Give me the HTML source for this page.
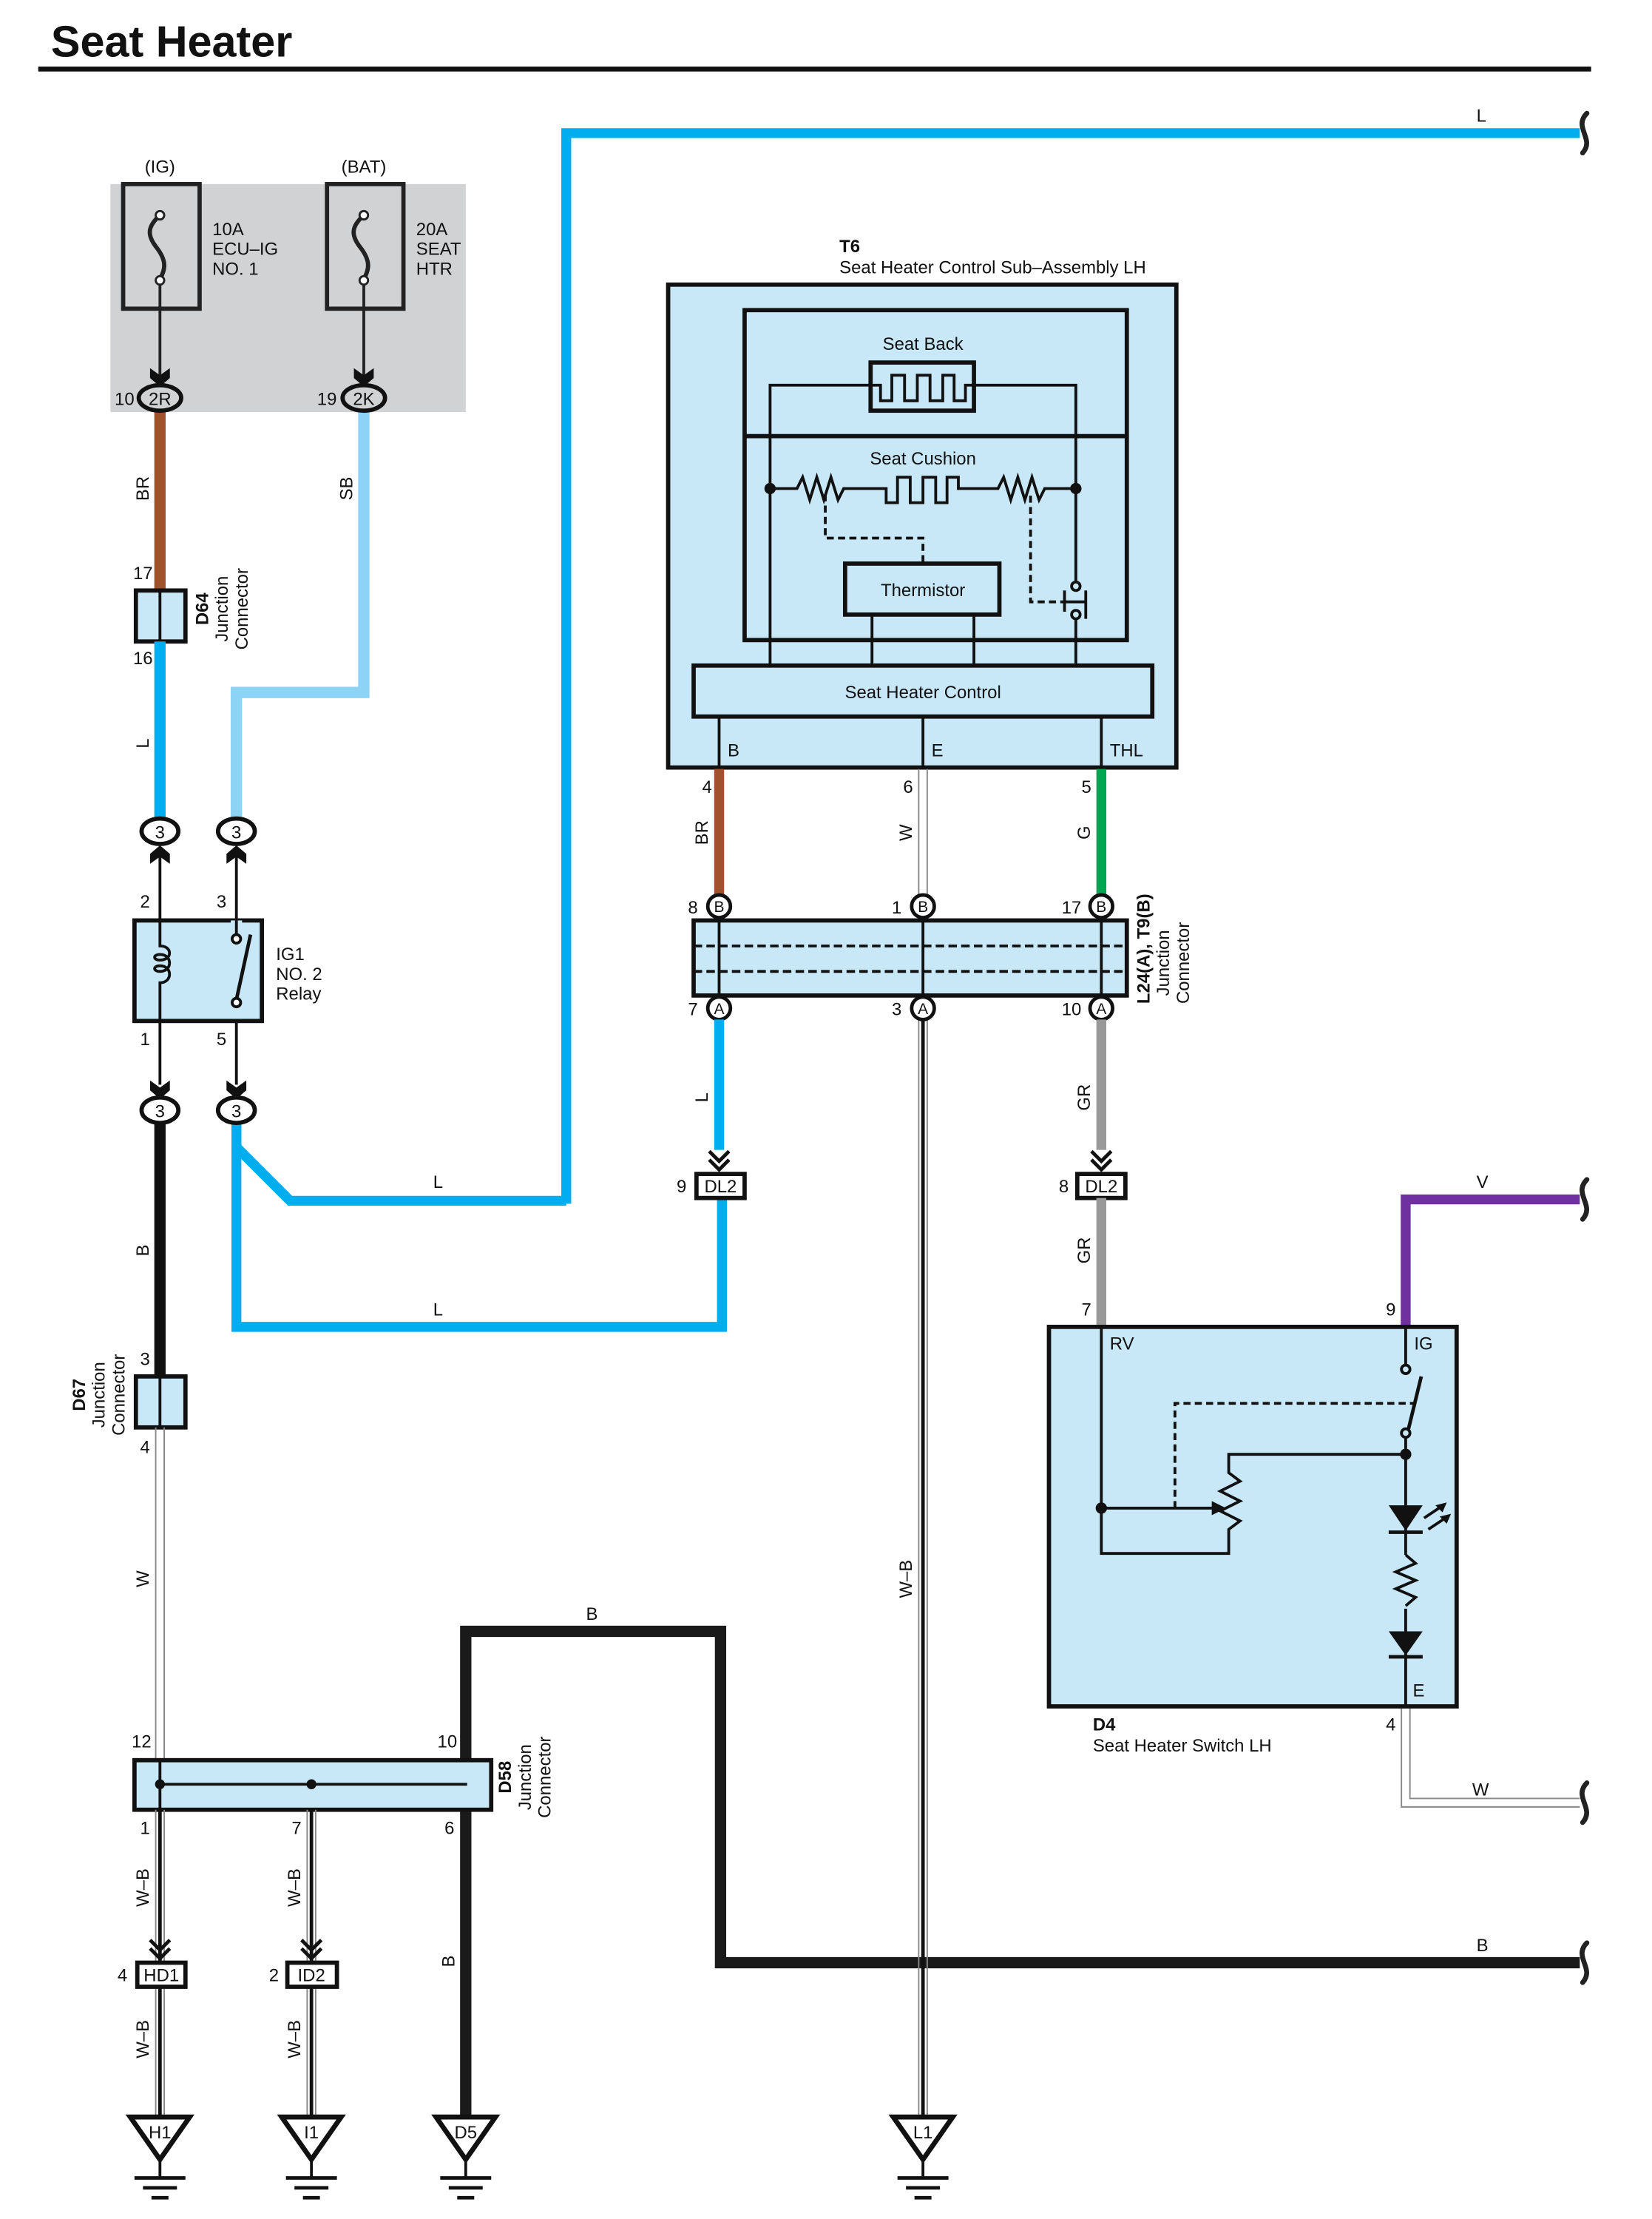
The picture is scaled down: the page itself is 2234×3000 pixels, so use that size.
<!DOCTYPE html>
<html><head><meta charset="utf-8"><style>
html,body{margin:0;padding:0;background:#fff;}
svg{display:block;}
text{font-family:"Liberation Sans",sans-serif;font-size:12.5px;fill:#111;}
.b{font-weight:bold;}
</style></head><body>
<svg width="2234" height="3000" viewBox="0 0 1167 1567" preserveAspectRatio="none" xmlns="http://www.w3.org/2000/svg">
<defs>
<g id="brk"><path d="M3,-14 C-7,-4 9,4 0,14" fill="none" stroke="#222" stroke-width="3.5" stroke-linecap="round"/></g>
<g id="ad"><polygon points="-7,-12 0,-7 7,-12 7,-5 0,1 -7,-5" fill="#111"/></g>
<g id="au"><polygon points="-7,12 0,7 7,12 7,5 0,-1 -7,5" fill="#111"/></g>
<g id="dc"><path d="M-7,-16 L0,-9 L7,-16 M-7,-10 L0,-3 L7,-10" fill="none" stroke="#111" stroke-width="2.5"/></g>
<g id="gnd"><polygon points="-21,0 21,0 0,30" fill="#fff" stroke="#111" stroke-width="3.5" stroke-linejoin="miter"/><line x1="0" y1="30" x2="0" y2="42" stroke="#111" stroke-width="2"/><line x1="-18" y1="43" x2="18" y2="43" stroke="#111" stroke-width="2.5"/><line x1="-12" y1="50" x2="12" y2="50" stroke="#111" stroke-width="2.5"/><line x1="-6" y1="57" x2="6" y2="57" stroke="#111" stroke-width="2.5"/></g>
</defs>

<!-- Title -->
<text x="36" y="40" class="b" style="font-size:31px">Seat Heater</text>
<rect x="27" y="47" width="1097" height="3.5" fill="#111"/>

<!-- Top L wire -->
<path d="M400,850 L400,94 L1116,94" fill="none" stroke="#00aeef" stroke-width="7"/>
<text x="1043" y="86">L</text>
<use href="#brk" x="1118" y="94"/>

<!-- Fuse block -->
<rect x="78" y="130" width="251" height="161" fill="#d1d2d4"/>
<rect x="87" y="130" width="54" height="88" fill="none" stroke="#222" stroke-width="3"/>
<rect x="231" y="130" width="54" height="88" fill="none" stroke="#222" stroke-width="3"/>
<text x="113" y="122" text-anchor="middle">(IG)</text>
<text x="257" y="122" text-anchor="middle">(BAT)</text>
<path d="M113,152 C104,160 104,166 110,174 C118,184 117,190 113,197" fill="none" stroke="#222" stroke-width="3"/>
<path d="M257,152 C248,160 248,166 254,174 C262,184 261,190 257,197" fill="none" stroke="#222" stroke-width="3"/>
<circle cx="113" cy="152" r="3" fill="#fff" stroke="#222" stroke-width="1.5"/>
<circle cx="113" cy="198" r="3" fill="#fff" stroke="#222" stroke-width="1.5"/>
<circle cx="257" cy="152" r="3" fill="#fff" stroke="#222" stroke-width="1.5"/>
<circle cx="257" cy="198" r="3" fill="#fff" stroke="#222" stroke-width="1.5"/>
<text x="150" y="166">10A</text><text x="150" y="180">ECU–IG</text><text x="150" y="194">NO. 1</text>
<text x="294" y="166">20A</text><text x="294" y="180">SEAT</text><text x="294" y="194">HTR</text>
<line x1="113" y1="201" x2="113" y2="272" stroke="#222" stroke-width="2"/>
<line x1="257" y1="201" x2="257" y2="272" stroke="#222" stroke-width="2"/>
<use href="#ad" x="113" y="272"/><use href="#ad" x="257" y="272"/>

<!-- BR and SB wires -->
<line x1="113" y1="289" x2="113" y2="418" stroke="#a0522d" stroke-width="8"/>
<path d="M257,289 L257,489 L167,489 L167,579" fill="none" stroke="#8dd3f5" stroke-width="8"/>
<ellipse cx="113" cy="281" rx="15" ry="9" fill="#d1d2d4" stroke="#111" stroke-width="3"/>
<text x="113" y="286" text-anchor="middle">2R</text><text x="81" y="286">10</text>
<ellipse cx="257" cy="281" rx="15" ry="9" fill="#d1d2d4" stroke="#111" stroke-width="3"/>
<text x="257" y="286" text-anchor="middle">2K</text><text x="224" y="286">19</text>
<text transform="translate(105,345) rotate(-90)" text-anchor="middle">BR</text>
<text transform="translate(249,345) rotate(-90)" text-anchor="middle">SB</text>

<!-- D64 -->
<rect x="96" y="417" width="35" height="36" fill="#c8e8f8" stroke="#111" stroke-width="3"/>
<line x1="113" y1="417" x2="113" y2="453" stroke="#111" stroke-width="2"/>
<text x="94" y="409">17</text><text x="94" y="469">16</text>
<text transform="translate(147,430) rotate(-90)" text-anchor="middle" class="b">D64</text>
<text transform="translate(161,430) rotate(-90)" text-anchor="middle">Junction</text>
<text transform="translate(175,430) rotate(-90)" text-anchor="middle">Connector</text>
<line x1="113" y1="453" x2="113" y2="579" stroke="#00aeef" stroke-width="8"/>
<text transform="translate(105,525) rotate(-90)" text-anchor="middle">L</text>

<!-- connectors 3 top -->
<ellipse cx="113" cy="587" rx="13" ry="9" fill="#fff" stroke="#111" stroke-width="3"/><text x="113" y="592" text-anchor="middle">3</text>
<ellipse cx="167" cy="587" rx="13" ry="9" fill="#fff" stroke="#111" stroke-width="3"/><text x="167" y="592" text-anchor="middle">3</text>
<use href="#au" x="113" y="598"/><use href="#au" x="167" y="598"/>
<line x1="113" y1="604" x2="113" y2="766" stroke="#111" stroke-width="2"/>
<line x1="167" y1="604" x2="167" y2="766" stroke="#111" stroke-width="2"/>

<!-- Relay -->
<rect x="95" y="650" width="90" height="71" fill="#c8e8f8" stroke="#111" stroke-width="3"/>
<path d="M113,650 L113,668 C122,668 122,678 113,678 C108,678 108,674 113,674 C122,674 122,686 113,686 C108,686 108,682 113,682 C122,682 122,694 113,694 L113,721" fill="none" stroke="#111" stroke-width="2"/>
<rect x="163" y="650" width="8" height="14" fill="#c8e8f8"/>
<line x1="167" y1="650" x2="167" y2="660" stroke="#111" stroke-width="2"/>
<circle cx="167" cy="663" r="3" fill="#fff" stroke="#111" stroke-width="2"/>
<line x1="167" y1="706" x2="177" y2="660" stroke="#111" stroke-width="2.5"/>
<circle cx="167" cy="708" r="3" fill="#fff" stroke="#111" stroke-width="2"/>
<text x="99" y="641">2</text><text x="153" y="641">3</text>
<text x="99" y="738">1</text><text x="153" y="738">5</text>
<text x="195" y="678">IG1</text><text x="195" y="692">NO. 2</text><text x="195" y="706">Relay</text>
<use href="#ad" x="113" y="775"/><use href="#ad" x="167" y="775"/>

<!-- L wires from relay 5 -->
<path d="M167,792 L167,810 L205,848 L400,848" fill="none" stroke="#00aeef" stroke-width="7"/>
<path d="M167,792 L167,937 L510,937 L510,846" fill="none" stroke="#00aeef" stroke-width="7"/>
<text x="306" y="839">L</text><text x="306" y="929">L</text>
<!-- B wire -->
<line x1="113" y1="792" x2="113" y2="973" stroke="#111" stroke-width="8"/>
<text transform="translate(105,883) rotate(-90)" text-anchor="middle">B</text>
<ellipse cx="113" cy="784" rx="13" ry="9" fill="#fff" stroke="#111" stroke-width="3"/><text x="113" y="789" text-anchor="middle">3</text>
<ellipse cx="167" cy="784" rx="13" ry="9" fill="#fff" stroke="#111" stroke-width="3"/><text x="167" y="789" text-anchor="middle">3</text>

<!-- D67 -->
<rect x="96" y="972" width="35" height="36" fill="#c8e8f8" stroke="#111" stroke-width="3"/>
<line x1="113" y1="972" x2="113" y2="1008" stroke="#111" stroke-width="2"/>
<text x="99" y="964">3</text><text x="99" y="1026">4</text>
<text transform="translate(60,985) rotate(-90)" text-anchor="middle" class="b">D67</text>
<text transform="translate(74,985) rotate(-90)" text-anchor="middle">Junction</text>
<text transform="translate(88,985) rotate(-90)" text-anchor="middle">Connector</text>
<line x1="110" y1="1008" x2="110" y2="1243" stroke="#888" stroke-width="1"/>
<line x1="116" y1="1008" x2="116" y2="1243" stroke="#888" stroke-width="1"/>
<text transform="translate(105,1115) rotate(-90)" text-anchor="middle">W</text>

<!-- B wire big -->
<path d="M329,1243 L329,1152 L509,1152 L509,1386 L1116,1386" fill="none" stroke="#1a1a1a" stroke-width="8"/>
<text x="414" y="1144">B</text><text x="1043" y="1378">B</text>
<use href="#brk" x="1118" y="1386"/>
<line x1="329" y1="1278" x2="329" y2="1497" stroke="#1a1a1a" stroke-width="8"/>
<text transform="translate(321,1385) rotate(-90)" text-anchor="middle">B</text>

<!-- D58 -->
<rect x="95" y="1243" width="252" height="35" fill="#c8e8f8" stroke="#111" stroke-width="3"/>
<line x1="113" y1="1260" x2="330" y2="1260" stroke="#111" stroke-width="2"/>
<circle cx="113" cy="1260" r="3.5" fill="#111"/><circle cx="220" cy="1260" r="3.5" fill="#111"/>
<line x1="113" y1="1243" x2="113" y2="1278" stroke="#111" stroke-width="2"/>
<text x="93" y="1234">12</text><text x="309" y="1234">10</text>
<text x="99" y="1295">1</text><text x="206" y="1295">7</text><text x="314" y="1295">6</text>
<text transform="translate(361,1255) rotate(-90)" text-anchor="middle" class="b">D58</text>
<text transform="translate(375,1255) rotate(-90)" text-anchor="middle">Junction</text>
<text transform="translate(389,1255) rotate(-90)" text-anchor="middle">Connector</text>

<!-- W-B to grounds -->
<g stroke-width="1">
<line x1="110" y1="1278" x2="110" y2="1495" stroke="#888"/><line x1="116" y1="1278" x2="116" y2="1495" stroke="#888"/>
<line x1="217" y1="1278" x2="217" y2="1495" stroke="#888"/><line x1="223" y1="1278" x2="223" y2="1495" stroke="#888"/>
<line x1="649" y1="720" x2="649" y2="1495" stroke="#888"/><line x1="655" y1="720" x2="655" y2="1495" stroke="#888"/>
</g>
<line x1="113" y1="1278" x2="113" y2="1495" stroke="#111" stroke-width="2.5"/>
<line x1="220" y1="1278" x2="220" y2="1495" stroke="#111" stroke-width="2.5"/>
<line x1="652" y1="720" x2="652" y2="1495" stroke="#111" stroke-width="2.5"/>
<text transform="translate(105,1333) rotate(-90)" text-anchor="middle">W–B</text>
<text transform="translate(212,1333) rotate(-90)" text-anchor="middle">W–B</text>
<text transform="translate(105,1440) rotate(-90)" text-anchor="middle">W–B</text>
<text transform="translate(212,1440) rotate(-90)" text-anchor="middle">W–B</text>
<text transform="translate(644,1115) rotate(-90)" text-anchor="middle">W–B</text>
<use href="#dc" x="113" y="1386"/><use href="#dc" x="220" y="1386"/>
<rect x="97" y="1386" width="34" height="17" fill="#fff" stroke="#111" stroke-width="3"/><text x="114" y="1399" text-anchor="middle">HD1</text><text x="83" y="1399">4</text>
<rect x="203" y="1386" width="35" height="17" fill="#fff" stroke="#111" stroke-width="3"/><text x="220" y="1399" text-anchor="middle">ID2</text><text x="190" y="1399">2</text>
<use href="#gnd" x="113" y="1495"/><text x="113" y="1510" text-anchor="middle">H1</text>
<use href="#gnd" x="220" y="1495"/><text x="220" y="1510" text-anchor="middle">I1</text>
<use href="#gnd" x="329" y="1495"/><text x="329" y="1510" text-anchor="middle">D5</text>
<use href="#gnd" x="652" y="1495"/><text x="652" y="1510" text-anchor="middle">L1</text>

<!-- T6 -->
<text x="593" y="178" class="b">T6</text>
<text x="593" y="193">Seat Heater Control Sub–Assembly LH</text>
<rect x="472" y="201" width="359" height="341" fill="#c8e8f8" stroke="#111" stroke-width="3"/>
<rect x="526" y="219" width="270" height="233" fill="none" stroke="#111" stroke-width="3"/>
<line x1="526" y1="308" x2="796" y2="308" stroke="#111" stroke-width="3"/>
<text x="652" y="247" text-anchor="middle">Seat Back</text>
<rect x="615" y="256" width="73" height="34" fill="none" stroke="#111" stroke-width="3"/>
<path d="M544,470 L544,272 L622,272 L622,283 L630,283 L630,265 L639,265 L639,283 L648,283 L648,265 L657,265 L657,283 L666,283 L666,265 L674,265 L674,283 L682,283 L682,272 L760,272 L760,410" fill="none" stroke="#111" stroke-width="2"/>
<text x="652" y="328" text-anchor="middle">Seat Cushion</text>
<path d="M544,345 L563,345 L567,337 L572,353 L577,337 L582,353 L587,337 L592,353 L596,345 L626,345 L626,355 L634,355 L634,337 L643,337 L643,355 L652,355 L652,337 L661,337 L661,355 L669,355 L669,337 L677,337 L677,345 L705,345 L709,337 L714,353 L719,337 L724,353 L729,337 L734,353 L738,345 L760,345" fill="none" stroke="#111" stroke-width="2"/>
<circle cx="544" cy="345" r="4" fill="#111"/><circle cx="760" cy="345" r="4" fill="#111"/>
<path d="M583,349 L583,380 L652,380 L652,398" fill="none" stroke="#111" stroke-width="2" stroke-dasharray="5,3"/>
<path d="M728,350 L728,425 L752,425" fill="none" stroke="#111" stroke-width="2" stroke-dasharray="5,3"/>
<rect x="597" y="398" width="109" height="36" fill="none" stroke="#111" stroke-width="3"/>
<text x="652" y="421" text-anchor="middle">Thermistor</text>
<circle cx="760" cy="414" r="3" fill="#c8e8f8" stroke="#111" stroke-width="2"/>
<circle cx="760" cy="434" r="3" fill="#c8e8f8" stroke="#111" stroke-width="2"/>
<line x1="752" y1="417" x2="752" y2="432" stroke="#111" stroke-width="2"/>
<line x1="767" y1="417" x2="767" y2="437" stroke="#111" stroke-width="2"/>
<line x1="752" y1="425" x2="767" y2="425" stroke="#111" stroke-width="2"/>
<line x1="760" y1="437" x2="760" y2="470" stroke="#111" stroke-width="2"/>
<line x1="616" y1="434" x2="616" y2="470" stroke="#111" stroke-width="2"/>
<line x1="688" y1="434" x2="688" y2="470" stroke="#111" stroke-width="2"/>
<rect x="490" y="470" width="324" height="36" fill="#c8e8f8" stroke="#111" stroke-width="3"/>
<text x="652" y="493" text-anchor="middle">Seat Heater Control</text>
<line x1="508" y1="506" x2="508" y2="542" stroke="#111" stroke-width="2"/>
<line x1="652" y1="506" x2="652" y2="542" stroke="#111" stroke-width="2"/>
<line x1="778" y1="506" x2="778" y2="542" stroke="#111" stroke-width="2"/>
<text x="514" y="534">B</text><text x="658" y="534">E</text><text x="784" y="534">THL</text>

<!-- wires below T6 -->
<line x1="508" y1="543" x2="508" y2="632" stroke="#a0522d" stroke-width="7"/>
<line x1="649" y1="543" x2="649" y2="632" stroke="#888" stroke-width="1"/><line x1="655" y1="543" x2="655" y2="632" stroke="#888" stroke-width="1"/>
<line x1="778" y1="543" x2="778" y2="632" stroke="#00a651" stroke-width="7"/>
<text x="496" y="560">4</text><text x="638" y="560">6</text><text x="764" y="560">5</text>
<text transform="translate(500,588) rotate(-90)" text-anchor="middle">BR</text>
<text transform="translate(644,588) rotate(-90)" text-anchor="middle">W</text>
<text transform="translate(770,588) rotate(-90)" text-anchor="middle">G</text>

<!-- L24 -->
<rect x="490" y="650" width="306" height="53" fill="#c8e8f8" stroke="#111" stroke-width="3"/>
<line x1="490" y1="668" x2="796" y2="668" stroke="#111" stroke-width="2" stroke-dasharray="6,3"/>
<line x1="490" y1="686" x2="796" y2="686" stroke="#111" stroke-width="2" stroke-dasharray="6,3"/>
<line x1="508" y1="648" x2="508" y2="705" stroke="#111" stroke-width="2"/>
<line x1="652" y1="648" x2="652" y2="705" stroke="#111" stroke-width="2"/>
<line x1="778" y1="648" x2="778" y2="705" stroke="#111" stroke-width="2"/>
<g stroke="#111" stroke-width="2.5" fill="#fff">
<circle cx="508" cy="640" r="8"/><circle cx="652" cy="640" r="8"/><circle cx="778" cy="640" r="8"/>
<circle cx="508" cy="712" r="8"/><circle cx="652" cy="712" r="8"/><circle cx="778" cy="712" r="8"/>
</g>
<text x="508" y="644" text-anchor="middle" style="font-size:11px">B</text><text x="652" y="644" text-anchor="middle" style="font-size:11px">B</text><text x="778" y="644" text-anchor="middle" style="font-size:11px">B</text>
<text x="508" y="716" text-anchor="middle" style="font-size:11px">A</text><text x="652" y="716" text-anchor="middle" style="font-size:11px">A</text><text x="778" y="716" text-anchor="middle" style="font-size:11px">A</text>
<text x="486" y="645">8</text><text x="630" y="645">1</text><text x="750" y="645">17</text>
<text x="486" y="717">7</text><text x="630" y="717">3</text><text x="750" y="717">10</text>
<text transform="translate(812,670) rotate(-90)" text-anchor="middle" class="b">L24(A), T9(B)</text>
<text transform="translate(826,680) rotate(-90)" text-anchor="middle">Junction</text>
<text transform="translate(840,680) rotate(-90)" text-anchor="middle">Connector</text>

<!-- below L24 -->
<line x1="508" y1="720" x2="508" y2="812" stroke="#00aeef" stroke-width="7"/>
<text transform="translate(500,775) rotate(-90)" text-anchor="middle">L</text>
<line x1="778" y1="720" x2="778" y2="812" stroke="#999" stroke-width="7"/>
<text transform="translate(770,775) rotate(-90)" text-anchor="middle">GR</text>
<use href="#dc" x="508" y="829"/><use href="#dc" x="778" y="829"/>
<rect x="492" y="829" width="34" height="17" fill="#fff" stroke="#111" stroke-width="3"/><text x="509" y="842" text-anchor="middle">DL2</text><text x="478" y="842">9</text>
<rect x="761" y="829" width="34" height="17" fill="#fff" stroke="#111" stroke-width="3"/><text x="778" y="842" text-anchor="middle">DL2</text><text x="748" y="842">8</text>
<line x1="778" y1="846" x2="778" y2="938" stroke="#999" stroke-width="7"/>
<text transform="translate(770,883) rotate(-90)" text-anchor="middle">GR</text>
<text x="764" y="929">7</text>

<!-- V wire -->
<path d="M993,938 L993,847 L1116,847" fill="none" stroke="#7030a0" stroke-width="7"/>
<text x="1043" y="839">V</text><text x="979" y="929">9</text>
<use href="#brk" x="1118" y="847"/>
<!-- W wire -->
<path d="M990,1205 L990,1276 L1116,1276" fill="none" stroke="#888" stroke-width="1"/>
<path d="M996,1205 L996,1270 L1116,1270" fill="none" stroke="#888" stroke-width="1"/>
<text x="1040" y="1268">W</text><text x="979" y="1222">4</text>
<use href="#brk" x="1118" y="1273"/>

<!-- D4 -->
<rect x="741" y="937" width="288" height="268" fill="#c8e8f8" stroke="#111" stroke-width="3"/>
<text x="784" y="953">RV</text><text x="999" y="953">IG</text><text x="998" y="1198">E</text>
<text x="772" y="1222" class="b">D4</text><text x="772" y="1237">Seat Heater Switch LH</text>
<path d="M778,937 L778,1097 L868,1097 L868,1080 L876,1074 L862,1067 L876,1060 L862,1053 L876,1046 L868,1040 L868,1027 L993,1027" fill="none" stroke="#111" stroke-width="2"/>
<line x1="778" y1="1065" x2="858" y2="1065" stroke="#111" stroke-width="2"/>
<polygon points="856,1060 866,1065 856,1070" fill="#111"/>
<circle cx="778" cy="1065" r="4" fill="#111"/>
<path d="M830,1065 L830,991 L1000,991" fill="none" stroke="#111" stroke-width="2" stroke-dasharray="5,3"/>
<line x1="993" y1="937" x2="993" y2="964" stroke="#111" stroke-width="2"/>
<circle cx="993" cy="967" r="3" fill="#c8e8f8" stroke="#111" stroke-width="2"/>
<line x1="995" y1="1009" x2="1004" y2="972" stroke="#111" stroke-width="2.5"/>
<circle cx="993" cy="1012" r="3" fill="#c8e8f8" stroke="#111" stroke-width="2"/>
<line x1="993" y1="1015" x2="993" y2="1205" stroke="#111" stroke-width="2"/>
<circle cx="993" cy="1027" r="4" fill="#111"/>
<polygon points="981,1063 1005,1063 993,1081" fill="#111"/>
<line x1="981" y1="1082" x2="1005" y2="1082" stroke="#111" stroke-width="2.5"/>
<path d="M1006,1072 L1018,1064 M1009,1080 L1021,1072" stroke="#111" stroke-width="2"/>
<polygon points="1022,1061 1014,1063 1019,1068" fill="#111"/><polygon points="1025,1069 1017,1071 1022,1076" fill="#111"/>
<rect x="985" y="1098" width="16" height="38" fill="#c8e8f8"/>
<path d="M993,1098 L1000,1104 L986,1110 L1000,1116 L986,1122 L1000,1128 L993,1134" fill="none" stroke="#111" stroke-width="2"/>
<polygon points="981,1152 1005,1152 993,1169" fill="#111"/>
<line x1="981" y1="1170" x2="1005" y2="1170" stroke="#111" stroke-width="2.5"/>
</svg>
</body></html>
